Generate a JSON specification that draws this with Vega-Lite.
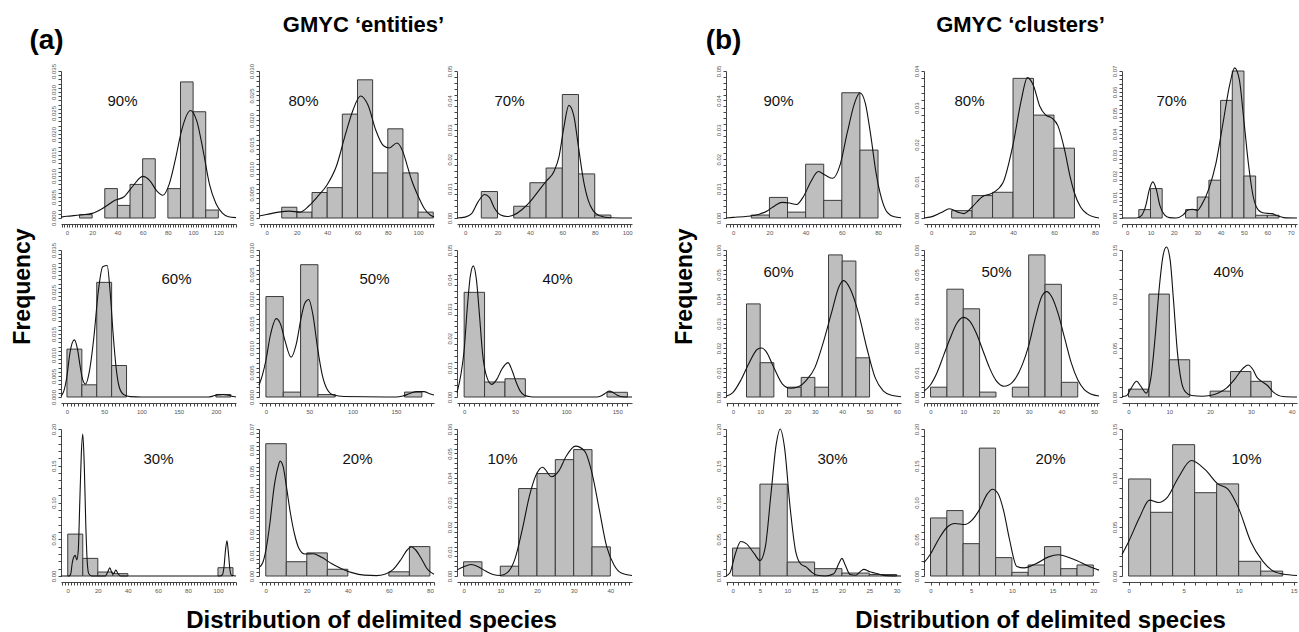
{
"$schema":"https://vega.github.io/schema/vega-lite/v6.json",
"background":"white",
"padding":{"left":10,"top":13,"right":0,"bottom":0},
"config":{
 "view":{"stroke":null},
 "font":"Liberation Sans",
 "axis":{"grid":false,"domainColor":"#444","tickColor":"#444","labelColor":"#555","labelFontSize":6,"labelFont":"Liberation Sans","tickSize":3,"labelOverlap":false,"labelFlush":false,"titleFont":"Liberation Sans","titleColor":"#000"},
 "axisLeft":{"labelAngle":-90,"labelAlign":"center","labelBaseline":"bottom","labelPadding":2},
 "axisBottom":{"offset":6,"labelPadding":2},
 "axisRight":{"domain":false,"ticks":false,"labels":false,"titleAngle":0,"titleAlign":"center","titleBaseline":"middle","titleFontSize":15,"titleFontWeight":"normal","titleColor":"#111"},
 "axisTop":{"domain":false,"ticks":false,"labels":false,"titleAlign":"center","titleBaseline":"middle","titleFontSize":22,"titleFontWeight":"bold"},
 "rect":{"fill":"#bebebe","stroke":"#3a3a3a","strokeWidth":1},
 "line":{"color":"#111","strokeWidth":1.1,"interpolate":"monotone","clip":true}
},
"datasets":{
"hist":[
{"p":"a90","a":10,"b":20,"v":0.0008},{"p":"a90","a":30,"b":40,"v":0.007},{"p":"a90","a":40,"b":50,"v":0.003},{"p":"a90","a":50,"b":60,"v":0.008},{"p":"a90","a":60,"b":70,"v":0.0141},{"p":"a90","a":80,"b":90,"v":0.007},{"p":"a90","a":90,"b":100,"v":0.0324},{"p":"a90","a":100,"b":110,"v":0.0253},{"p":"a90","a":110,"b":120,"v":0.0019},
{"p":"a80","a":10,"b":20,"v":0.0022},{"p":"a80","a":20,"b":30,"v":0.0012},{"p":"a80","a":30,"b":40,"v":0.0052},{"p":"a80","a":40,"b":50,"v":0.0062},{"p":"a80","a":50,"b":60,"v":0.0212},{"p":"a80","a":60,"b":70,"v":0.0282},{"p":"a80","a":70,"b":80,"v":0.0092},{"p":"a80","a":80,"b":90,"v":0.0182},{"p":"a80","a":90,"b":100,"v":0.0092},{"p":"a80","a":100,"b":110,"v":0.0012},
{"p":"a70","a":10,"b":20,"v":0.009},{"p":"a70","a":30,"b":40,"v":0.004},{"p":"a70","a":40,"b":50,"v":0.012},{"p":"a70","a":50,"b":60,"v":0.017},{"p":"a70","a":60,"b":70,"v":0.042},{"p":"a70","a":70,"b":80,"v":0.015},{"p":"a70","a":80,"b":90,"v":0.001},
{"p":"a60","a":0,"b":20,"v":0.0114},{"p":"a60","a":20,"b":40,"v":0.0029},{"p":"a60","a":40,"b":60,"v":0.0273},{"p":"a60","a":60,"b":80,"v":0.0075},{"p":"a60","a":200,"b":220,"v":0.0006},
{"p":"a50","a":0,"b":20,"v":0.0205},{"p":"a50","a":20,"b":40,"v":0.001},{"p":"a50","a":40,"b":60,"v":0.027},{"p":"a50","a":60,"b":80,"v":0.0005},{"p":"a50","a":160,"b":180,"v":0.001},
{"p":"a40","a":0,"b":20,"v":0.0356},{"p":"a40","a":20,"b":40,"v":0.0051},{"p":"a40","a":40,"b":60,"v":0.0062},{"p":"a40","a":140,"b":160,"v":0.0016},
{"p":"a30","a":0,"b":10,"v":0.057},{"p":"a30","a":10,"b":20,"v":0.024},{"p":"a30","a":20,"b":30,"v":0.0054},{"p":"a30","a":30,"b":40,"v":0.0032},{"p":"a30","a":100,"b":110,"v":0.0113},
{"p":"a20","a":0,"b":10,"v":0.063},{"p":"a20","a":10,"b":20,"v":0.0068},{"p":"a20","a":20,"b":30,"v":0.011},{"p":"a20","a":30,"b":40,"v":0.0032},{"p":"a20","a":60,"b":70,"v":0.002},{"p":"a20","a":70,"b":80,"v":0.014},
{"p":"a10","a":0,"b":5,"v":0.0058},{"p":"a10","a":10,"b":15,"v":0.004},{"p":"a10","a":15,"b":20,"v":0.0357},{"p":"a10","a":20,"b":25,"v":0.0418},{"p":"a10","a":25,"b":30,"v":0.0475},{"p":"a10","a":30,"b":35,"v":0.0516},{"p":"a10","a":35,"b":40,"v":0.0119},
{"p":"b90","a":10,"b":20,"v":0.001},{"p":"b90","a":20,"b":30,"v":0.007},{"p":"b90","a":30,"b":40,"v":0.002},{"p":"b90","a":40,"b":50,"v":0.0183},{"p":"b90","a":50,"b":60,"v":0.006},{"p":"b90","a":60,"b":70,"v":0.0426},{"p":"b90","a":70,"b":80,"v":0.0231},
{"p":"b80","a":10,"b":20,"v":0.002},{"p":"b80","a":20,"b":30,"v":0.0061},{"p":"b80","a":30,"b":40,"v":0.007},{"p":"b80","a":40,"b":50,"v":0.038},{"p":"b80","a":50,"b":60,"v":0.028},{"p":"b80","a":60,"b":70,"v":0.019},
{"p":"b70","a":5,"b":10,"v":0.004},{"p":"b70","a":10,"b":15,"v":0.014},{"p":"b70","a":25,"b":30,"v":0.004},{"p":"b70","a":30,"b":35,"v":0.01},{"p":"b70","a":35,"b":40,"v":0.018},{"p":"b70","a":40,"b":45,"v":0.056},{"p":"b70","a":45,"b":50,"v":0.07},{"p":"b70","a":50,"b":55,"v":0.02},{"p":"b70","a":55,"b":60,"v":0.0013},{"p":"b70","a":60,"b":65,"v":0.0013},
{"p":"b60","a":5,"b":10,"v":0.038},{"p":"b60","a":10,"b":15,"v":0.014},{"p":"b60","a":20,"b":25,"v":0.004},{"p":"b60","a":25,"b":30,"v":0.008},{"p":"b60","a":30,"b":35,"v":0.004},{"p":"b60","a":35,"b":40,"v":0.058},{"p":"b60","a":40,"b":45,"v":0.0555},{"p":"b60","a":45,"b":50,"v":0.016},
{"p":"b50","a":0,"b":5,"v":0.004},{"p":"b50","a":5,"b":10,"v":0.044},{"p":"b50","a":10,"b":15,"v":0.036},{"p":"b50","a":15,"b":20,"v":0.002},{"p":"b50","a":25,"b":30,"v":0.004},{"p":"b50","a":30,"b":35,"v":0.058},{"p":"b50","a":35,"b":40,"v":0.046},{"p":"b50","a":40,"b":45,"v":0.006},
{"p":"b40","a":0,"b":5,"v":0.008},{"p":"b40","a":5,"b":10,"v":0.105},{"p":"b40","a":10,"b":15,"v":0.038},{"p":"b40","a":20,"b":25,"v":0.006},{"p":"b40","a":25,"b":30,"v":0.026},{"p":"b40","a":30,"b":35,"v":0.016},
{"p":"b30","a":0,"b":5,"v":0.038},{"p":"b30","a":5,"b":10,"v":0.125},{"p":"b30","a":10,"b":15,"v":0.019},{"p":"b30","a":15,"b":20,"v":0.01},{"p":"b30","a":20,"b":25,"v":0.004},{"p":"b30","a":25,"b":30,"v":0.002},
{"p":"b20","a":0,"b":2,"v":0.079},{"p":"b20","a":2,"b":4,"v":0.089},{"p":"b20","a":4,"b":6,"v":0.044},{"p":"b20","a":6,"b":8,"v":0.174},{"p":"b20","a":8,"b":10,"v":0.025},{"p":"b20","a":10,"b":12,"v":0.005},{"p":"b20","a":12,"b":14,"v":0.015},{"p":"b20","a":14,"b":16,"v":0.04},{"p":"b20","a":16,"b":18,"v":0.01},{"p":"b20","a":18,"b":20,"v":0.015},
{"p":"b10","a":0,"b":2,"v":0.099},{"p":"b10","a":2,"b":4,"v":0.065},{"p":"b10","a":4,"b":6,"v":0.134},{"p":"b10","a":6,"b":8,"v":0.085},{"p":"b10","a":8,"b":10,"v":0.094},{"p":"b10","a":10,"b":12,"v":0.015},{"p":"b10","a":12,"b":14,"v":0.005}
],
"dens":[
{"p":"a90","x":-4.7,"y":0.0002},{"p":"a90","x":0,"y":0.0004},{"p":"a90","x":10,"y":0.0007},{"p":"a90","x":20,"y":0.0011},{"p":"a90","x":30,"y":0.0026},{"p":"a90","x":38,"y":0.0042},{"p":"a90","x":45,"y":0.005},{"p":"a90","x":52,"y":0.0075},{"p":"a90","x":60,"y":0.0099},{"p":"a90","x":66,"y":0.0088},{"p":"a90","x":71,"y":0.0065},{"p":"a90","x":76,"y":0.0054},{"p":"a90","x":81,"y":0.008},{"p":"a90","x":86,"y":0.014},{"p":"a90","x":91,"y":0.021},{"p":"a90","x":98,"y":0.0256},{"p":"a90","x":103,"y":0.023},{"p":"a90","x":108,"y":0.016},{"p":"a90","x":113,"y":0.008},{"p":"a90","x":118,"y":0.0035},{"p":"a90","x":123,"y":0.0012},{"p":"a90","x":128,"y":0.0003},{"p":"a90","x":134,"y":0.0001},
{"p":"a80","x":-5,"y":0.0004},{"p":"a80","x":0,"y":0.0007},{"p":"a80","x":8,"y":0.0012},{"p":"a80","x":15,"y":0.0014},{"p":"a80","x":22,"y":0.0012},{"p":"a80","x":28,"y":0.0025},{"p":"a80","x":34,"y":0.0045},{"p":"a80","x":40,"y":0.0068},{"p":"a80","x":46,"y":0.0105},{"p":"a80","x":52,"y":0.017},{"p":"a80","x":57,"y":0.022},{"p":"a80","x":62,"y":0.0249},{"p":"a80","x":67,"y":0.023},{"p":"a80","x":72,"y":0.018},{"p":"a80","x":77,"y":0.0148},{"p":"a80","x":81,"y":0.0143},{"p":"a80","x":86,"y":0.0153},{"p":"a80","x":90,"y":0.0135},{"p":"a80","x":93,"y":0.0105},{"p":"a80","x":96,"y":0.0075},{"p":"a80","x":100,"y":0.0045},{"p":"a80","x":104,"y":0.002},{"p":"a80","x":108,"y":0.0006},{"p":"a80","x":110.5,"y":0.0002},
{"p":"a70","x":-5,"y":0},{"p":"a70","x":0,"y":0.0003},{"p":"a70","x":4,"y":0.0015},{"p":"a70","x":8,"y":0.0055},{"p":"a70","x":12,"y":0.008},{"p":"a70","x":15,"y":0.007},{"p":"a70","x":18,"y":0.0035},{"p":"a70","x":22,"y":0.001},{"p":"a70","x":26,"y":0.0005},{"p":"a70","x":30,"y":0.001},{"p":"a70","x":35,"y":0.0028},{"p":"a70","x":40,"y":0.0055},{"p":"a70","x":45,"y":0.009},{"p":"a70","x":50,"y":0.0125},{"p":"a70","x":55,"y":0.016},{"p":"a70","x":58,"y":0.021},{"p":"a70","x":61,"y":0.031},{"p":"a70","x":64,"y":0.0383},{"p":"a70","x":67,"y":0.035},{"p":"a70","x":70,"y":0.024},{"p":"a70","x":73,"y":0.013},{"p":"a70","x":76,"y":0.006},{"p":"a70","x":79,"y":0.0025},{"p":"a70","x":83,"y":0.0008},{"p":"a70","x":90,"y":0.0001},{"p":"a70","x":103,"y":0},
{"p":"a60","x":-8,"y":0.0002},{"p":"a60","x":-4,"y":0.0015},{"p":"a60","x":0,"y":0.005},{"p":"a60","x":4,"y":0.0105},{"p":"a60","x":10,"y":0.0136},{"p":"a60","x":14,"y":0.0115},{"p":"a60","x":18,"y":0.007},{"p":"a60","x":21,"y":0.0042},{"p":"a60","x":25,"y":0.0031},{"p":"a60","x":30,"y":0.006},{"p":"a60","x":36,"y":0.014},{"p":"a60","x":42,"y":0.025},{"p":"a60","x":48,"y":0.031},{"p":"a60","x":54,"y":0.0313},{"p":"a60","x":58,"y":0.025},{"p":"a60","x":62,"y":0.015},{"p":"a60","x":66,"y":0.007},{"p":"a60","x":70,"y":0.0025},{"p":"a60","x":76,"y":0.0006},{"p":"a60","x":85,"y":0.0001},{"p":"a60","x":100,"y":0},{"p":"a60","x":190,"y":0},{"p":"a60","x":196,"y":0.0002},{"p":"a60","x":202,"y":0.0005},{"p":"a60","x":210,"y":0.0006},{"p":"a60","x":217,"y":0.0004},{"p":"a60","x":224,"y":0.0001},{"p":"a60","x":227,"y":0},
{"p":"a50","x":-8,"y":0.0024},{"p":"a50","x":-4,"y":0.0045},{"p":"a50","x":0,"y":0.0075},{"p":"a50","x":5,"y":0.0125},{"p":"a50","x":12,"y":0.016},{"p":"a50","x":17,"y":0.0148},{"p":"a50","x":22,"y":0.0115},{"p":"a50","x":29,"y":0.0081},{"p":"a50","x":35,"y":0.0108},{"p":"a50","x":41,"y":0.0165},{"p":"a50","x":45,"y":0.0192},{"p":"a50","x":49.5,"y":0.0199},{"p":"a50","x":54,"y":0.017},{"p":"a50","x":60,"y":0.0095},{"p":"a50","x":65,"y":0.0045},{"p":"a50","x":70,"y":0.0018},{"p":"a50","x":78,"y":0.0004},{"p":"a50","x":90,"y":0.0001},{"p":"a50","x":150,"y":0},{"p":"a50","x":158,"y":0.0002},{"p":"a50","x":166,"y":0.0007},{"p":"a50","x":174,"y":0.0011},{"p":"a50","x":182,"y":0.0011},{"p":"a50","x":190,"y":0.0006},{"p":"a50","x":194,"y":0.0004},
{"p":"a40","x":-7,"y":0.0015},{"p":"a40","x":-3,"y":0.008},{"p":"a40","x":0,"y":0.016},{"p":"a40","x":3,"y":0.03},{"p":"a40","x":6,"y":0.041},{"p":"a40","x":9,"y":0.0446},{"p":"a40","x":12,"y":0.04},{"p":"a40","x":15,"y":0.028},{"p":"a40","x":18,"y":0.015},{"p":"a40","x":22,"y":0.007},{"p":"a40","x":27,"y":0.0043},{"p":"a40","x":32,"y":0.006},{"p":"a40","x":37,"y":0.0095},{"p":"a40","x":43,"y":0.0117},{"p":"a40","x":47,"y":0.009},{"p":"a40","x":51,"y":0.005},{"p":"a40","x":55,"y":0.002},{"p":"a40","x":59,"y":0.0006},{"p":"a40","x":65,"y":0.0001},{"p":"a40","x":70,"y":0},{"p":"a40","x":130,"y":0},{"p":"a40","x":134,"y":0.0003},{"p":"a40","x":138,"y":0.0012},{"p":"a40","x":142,"y":0.002},{"p":"a40","x":146,"y":0.0015},{"p":"a40","x":150,"y":0.0006},{"p":"a40","x":155,"y":0.0001},{"p":"a40","x":164.5,"y":0},
{"p":"a30","x":-4.5,"y":0},{"p":"a30","x":1,"y":0},{"p":"a30","x":2,"y":0.003},{"p":"a30","x":3,"y":0.018},{"p":"a30","x":4,"y":0.026},{"p":"a30","x":5,"y":0.028},{"p":"a30","x":6,"y":0.022},{"p":"a30","x":7,"y":0.035},{"p":"a30","x":8,"y":0.1},{"p":"a30","x":9,"y":0.165},{"p":"a30","x":10,"y":0.193},{"p":"a30","x":11,"y":0.15},{"p":"a30","x":12,"y":0.07},{"p":"a30","x":13,"y":0.018},{"p":"a30","x":14,"y":0.003},{"p":"a30","x":16,"y":0},{"p":"a30","x":25,"y":0},{"p":"a30","x":26.5,"y":0.005},{"p":"a30","x":28,"y":0.011},{"p":"a30","x":29.5,"y":0.004},{"p":"a30","x":30.5,"y":0.003},{"p":"a30","x":32,"y":0.008},{"p":"a30","x":33.5,"y":0.003},{"p":"a30","x":35,"y":0},{"p":"a30","x":101,"y":0},{"p":"a30","x":103,"y":0.002},{"p":"a30","x":104,"y":0.012},{"p":"a30","x":105,"y":0.035},{"p":"a30","x":106,"y":0.048},{"p":"a30","x":107,"y":0.03},{"p":"a30","x":108,"y":0.008},{"p":"a30","x":109,"y":0.001},{"p":"a30","x":112,"y":0},
{"p":"a20","x":-3.3,"y":0.004},{"p":"a20","x":-1.5,"y":0.0063},{"p":"a20","x":0,"y":0.012},{"p":"a20","x":2,"y":0.025},{"p":"a20","x":4,"y":0.042},{"p":"a20","x":6,"y":0.052},{"p":"a20","x":7,"y":0.0547},{"p":"a20","x":8.5,"y":0.052},{"p":"a20","x":10,"y":0.043},{"p":"a20","x":12,"y":0.03},{"p":"a20","x":14,"y":0.02},{"p":"a20","x":16,"y":0.0135},{"p":"a20","x":19,"y":0.0105},{"p":"a20","x":23,"y":0.0106},{"p":"a20","x":27,"y":0.009},{"p":"a20","x":32,"y":0.006},{"p":"a20","x":37,"y":0.0035},{"p":"a20","x":42,"y":0.0016},{"p":"a20","x":48,"y":0.0004},{"p":"a20","x":54,"y":0.0002},{"p":"a20","x":58,"y":0.0008},{"p":"a20","x":62,"y":0.003},{"p":"a20","x":66,"y":0.008},{"p":"a20","x":69,"y":0.0125},{"p":"a20","x":71,"y":0.0139},{"p":"a20","x":73,"y":0.0125},{"p":"a20","x":76,"y":0.008},{"p":"a20","x":79,"y":0.003},{"p":"a20","x":82,"y":0.0008},
{"p":"a10","x":-1.8,"y":0.0025},{"p":"a10","x":0,"y":0.0038},{"p":"a10","x":2,"y":0.0047},{"p":"a10","x":4,"y":0.0038},{"p":"a10","x":6,"y":0.002},{"p":"a10","x":8,"y":0.0006},{"p":"a10","x":10,"y":0.0002},{"p":"a10","x":12,"y":0.0015},{"p":"a10","x":14,"y":0.007},{"p":"a10","x":16,"y":0.019},{"p":"a10","x":18,"y":0.033},{"p":"a10","x":20,"y":0.042},{"p":"a10","x":21.5,"y":0.0444},{"p":"a10","x":24,"y":0.0405},{"p":"a10","x":26,"y":0.043},{"p":"a10","x":28,"y":0.049},{"p":"a10","x":30.5,"y":0.053},{"p":"a10","x":33,"y":0.051},{"p":"a10","x":35,"y":0.042},{"p":"a10","x":37,"y":0.027},{"p":"a10","x":39,"y":0.012},{"p":"a10","x":41,"y":0.0045},{"p":"a10","x":43,"y":0.0012},{"p":"a10","x":45.9,"y":0.0002},
{"p":"b90","x":-4,"y":0},{"p":"b90","x":0,"y":0.0002},{"p":"b90","x":8,"y":0.0006},{"p":"b90","x":14,"y":0.0012},{"p":"b90","x":19,"y":0.0025},{"p":"b90","x":23,"y":0.0042},{"p":"b90","x":27,"y":0.0053},{"p":"b90","x":31,"y":0.0051},{"p":"b90","x":35,"y":0.0046},{"p":"b90","x":39,"y":0.0075},{"p":"b90","x":43,"y":0.0125},{"p":"b90","x":47,"y":0.0158},{"p":"b90","x":51,"y":0.0145},{"p":"b90","x":55,"y":0.0135},{"p":"b90","x":59,"y":0.018},{"p":"b90","x":63,"y":0.029},{"p":"b90","x":67,"y":0.039},{"p":"b90","x":70,"y":0.0426},{"p":"b90","x":73,"y":0.039},{"p":"b90","x":76,"y":0.028},{"p":"b90","x":79,"y":0.015},{"p":"b90","x":82,"y":0.0065},{"p":"b90","x":85,"y":0.002},{"p":"b90","x":89,"y":0.0004},{"p":"b90","x":92.7,"y":0.0001},
{"p":"b80","x":-3.5,"y":0},{"p":"b80","x":0,"y":0.0003},{"p":"b80","x":5,"y":0.0015},{"p":"b80","x":9,"y":0.0025},{"p":"b80","x":13,"y":0.0016},{"p":"b80","x":16,"y":0.0012},{"p":"b80","x":20,"y":0.003},{"p":"b80","x":25,"y":0.0058},{"p":"b80","x":30,"y":0.0068},{"p":"b80","x":35,"y":0.0095},{"p":"b80","x":40,"y":0.02},{"p":"b80","x":44,"y":0.032},{"p":"b80","x":47,"y":0.0382},{"p":"b80","x":50,"y":0.036},{"p":"b80","x":53,"y":0.0305},{"p":"b80","x":56,"y":0.028},{"p":"b80","x":59,"y":0.0272},{"p":"b80","x":62,"y":0.025},{"p":"b80","x":65,"y":0.019},{"p":"b80","x":68,"y":0.011},{"p":"b80","x":70,"y":0.0068},{"p":"b80","x":73,"y":0.003},{"p":"b80","x":76,"y":0.0012},{"p":"b80","x":80,"y":0.0002},{"p":"b80","x":82,"y":0},
{"p":"b70","x":-2.2,"y":0},{"p":"b70","x":4,"y":0},{"p":"b70","x":6,"y":0.001},{"p":"b70","x":8,"y":0.006},{"p":"b70","x":9.5,"y":0.0135},{"p":"b70","x":11,"y":0.0172},{"p":"b70","x":12.5,"y":0.0135},{"p":"b70","x":14,"y":0.006},{"p":"b70","x":16,"y":0.0015},{"p":"b70","x":18,"y":0.0002},{"p":"b70","x":21,"y":0},{"p":"b70","x":24,"y":0.0015},{"p":"b70","x":26,"y":0.0038},{"p":"b70","x":28,"y":0.0042},{"p":"b70","x":30,"y":0.0036},{"p":"b70","x":32,"y":0.0065},{"p":"b70","x":35,"y":0.014},{"p":"b70","x":38,"y":0.026},{"p":"b70","x":41,"y":0.045},{"p":"b70","x":44,"y":0.064},{"p":"b70","x":46,"y":0.0715},{"p":"b70","x":48,"y":0.066},{"p":"b70","x":50,"y":0.046},{"p":"b70","x":52,"y":0.025},{"p":"b70","x":54,"y":0.01},{"p":"b70","x":56,"y":0.004},{"p":"b70","x":58,"y":0.0025},{"p":"b70","x":60,"y":0.0022},{"p":"b70","x":62,"y":0.0021},{"p":"b70","x":64,"y":0.0012},{"p":"b70","x":67,"y":0.0002},{"p":"b70","x":72.7,"y":0},
{"p":"b60","x":-2.5,"y":0.0003},{"p":"b60","x":0,"y":0.0018},{"p":"b60","x":3,"y":0.007},{"p":"b60","x":6,"y":0.014},{"p":"b60","x":9,"y":0.0195},{"p":"b60","x":10.5,"y":0.02},{"p":"b60","x":12,"y":0.0188},{"p":"b60","x":15,"y":0.012},{"p":"b60","x":18,"y":0.0055},{"p":"b60","x":21,"y":0.0036},{"p":"b60","x":24,"y":0.0042},{"p":"b60","x":27,"y":0.007},{"p":"b60","x":30,"y":0.012},{"p":"b60","x":33,"y":0.022},{"p":"b60","x":36,"y":0.034},{"p":"b60","x":39,"y":0.0455},{"p":"b60","x":40.5,"y":0.0475},{"p":"b60","x":43,"y":0.044},{"p":"b60","x":46,"y":0.034},{"p":"b60","x":49,"y":0.02},{"p":"b60","x":52,"y":0.008},{"p":"b60","x":55,"y":0.0025},{"p":"b60","x":58,"y":0.0007},{"p":"b60","x":61.5,"y":0.0001},
{"p":"b50","x":-2,"y":0.0024},{"p":"b50","x":0,"y":0.005},{"p":"b50","x":2,"y":0.01},{"p":"b50","x":4,"y":0.017},{"p":"b50","x":6,"y":0.024},{"p":"b50","x":8,"y":0.03},{"p":"b50","x":10,"y":0.0325},{"p":"b50","x":12,"y":0.031},{"p":"b50","x":14,"y":0.026},{"p":"b50","x":16,"y":0.019},{"p":"b50","x":18,"y":0.012},{"p":"b50","x":20,"y":0.0068},{"p":"b50","x":22.5,"y":0.0044},{"p":"b50","x":25,"y":0.006},{"p":"b50","x":28,"y":0.013},{"p":"b50","x":30,"y":0.021},{"p":"b50","x":32,"y":0.032},{"p":"b50","x":34,"y":0.041},{"p":"b50","x":35.5,"y":0.043},{"p":"b50","x":37,"y":0.041},{"p":"b50","x":39,"y":0.034},{"p":"b50","x":41,"y":0.024},{"p":"b50","x":43,"y":0.014},{"p":"b50","x":45,"y":0.007},{"p":"b50","x":47,"y":0.003},{"p":"b50","x":49,"y":0.0012},{"p":"b50","x":51.5,"y":0.0004},
{"p":"b40","x":-1.6,"y":0.0005},{"p":"b40","x":-0.5,"y":0.0013},{"p":"b40","x":0.5,"y":0.008},{"p":"b40","x":2,"y":0.016},{"p":"b40","x":3,"y":0.011},{"p":"b40","x":4.3,"y":0.004},{"p":"b40","x":5.5,"y":0.02},{"p":"b40","x":6.5,"y":0.06},{"p":"b40","x":7.5,"y":0.11},{"p":"b40","x":8.5,"y":0.145},{"p":"b40","x":9.3,"y":0.153},{"p":"b40","x":10.2,"y":0.14},{"p":"b40","x":11,"y":0.1},{"p":"b40","x":12,"y":0.045},{"p":"b40","x":13,"y":0.015},{"p":"b40","x":14,"y":0.005},{"p":"b40","x":15.5,"y":0.0015},{"p":"b40","x":18,"y":0.0008},{"p":"b40","x":20,"y":0.0015},{"p":"b40","x":22,"y":0.004},{"p":"b40","x":24,"y":0.009},{"p":"b40","x":26,"y":0.018},{"p":"b40","x":28,"y":0.029},{"p":"b40","x":29.3,"y":0.0326},{"p":"b40","x":30.5,"y":0.028},{"p":"b40","x":31.5,"y":0.02},{"p":"b40","x":32.6,"y":0.016},{"p":"b40","x":34,"y":0.012},{"p":"b40","x":35.5,"y":0.005},{"p":"b40","x":37.9,"y":0.0005},{"p":"b40","x":41.3,"y":0},
{"p":"b30","x":-1.2,"y":0},{"p":"b30","x":-0.5,"y":0.004},{"p":"b30","x":0.5,"y":0.03},{"p":"b30","x":1.5,"y":0.047},{"p":"b30","x":2.5,"y":0.044},{"p":"b30","x":4,"y":0.03},{"p":"b30","x":5,"y":0.021},{"p":"b30","x":6,"y":0.04},{"p":"b30","x":7,"y":0.11},{"p":"b30","x":8,"y":0.18},{"p":"b30","x":8.7,"y":0.2},{"p":"b30","x":9.5,"y":0.175},{"p":"b30","x":10.5,"y":0.095},{"p":"b30","x":11.5,"y":0.035},{"p":"b30","x":12.5,"y":0.016},{"p":"b30","x":13.5,"y":0.012},{"p":"b30","x":14.5,"y":0.005},{"p":"b30","x":15.5,"y":0.001},{"p":"b30","x":17,"y":0},{"p":"b30","x":18.5,"y":0.003},{"p":"b30","x":19.5,"y":0.018},{"p":"b30","x":20,"y":0.024},{"p":"b30","x":20.6,"y":0.015},{"p":"b30","x":21.5,"y":0.002},{"p":"b30","x":22.5,"y":0.001},{"p":"b30","x":23.5,"y":0.007},{"p":"b30","x":24,"y":0.009},{"p":"b30","x":25,"y":0.006},{"p":"b30","x":26,"y":0.004},{"p":"b30","x":27,"y":0.002},{"p":"b30","x":28,"y":0.0005},{"p":"b30","x":30.8,"y":0},
{"p":"b20","x":-0.8,"y":0.018},{"p":"b20","x":0,"y":0.03},{"p":"b20","x":1,"y":0.05},{"p":"b20","x":2,"y":0.066},{"p":"b20","x":3,"y":0.0715},{"p":"b20","x":4.2,"y":0.07},{"p":"b20","x":5,"y":0.075},{"p":"b20","x":6,"y":0.09},{"p":"b20","x":7,"y":0.112},{"p":"b20","x":7.6,"y":0.118},{"p":"b20","x":8.3,"y":0.112},{"p":"b20","x":9,"y":0.088},{"p":"b20","x":9.7,"y":0.05},{"p":"b20","x":10.6,"y":0.013},{"p":"b20","x":11.5,"y":0.011},{"p":"b20","x":13,"y":0.017},{"p":"b20","x":14.5,"y":0.026},{"p":"b20","x":15.7,"y":0.029},{"p":"b20","x":17.5,"y":0.023},{"p":"b20","x":19.5,"y":0.013},{"p":"b20","x":20.7,"y":0.008},
{"p":"b10","x":-0.6,"y":0.022},{"p":"b10","x":0,"y":0.035},{"p":"b10","x":1,"y":0.06},{"p":"b10","x":1.9,"y":0.0774},{"p":"b10","x":2.7,"y":0.075},{"p":"b10","x":3.5,"y":0.08},{"p":"b10","x":4.5,"y":0.1},{"p":"b10","x":5.7,"y":0.1178},{"p":"b10","x":7,"y":0.108},{"p":"b10","x":8.1,"y":0.094},{"p":"b10","x":9,"y":0.089},{"p":"b10","x":10,"y":0.069},{"p":"b10","x":11.1,"y":0.035},{"p":"b10","x":12.2,"y":0.015},{"p":"b10","x":13,"y":0.006},{"p":"b10","x":14,"y":0.002},{"p":"b10","x":15.3,"y":0.0005}
]
},
"spacing":37,
"hconcat":[
{"columns":3,"spacing":{"row":32,"column":23},"bounds":"flush","concat":[
{"width":175,"height":147,"resolve":{"axis":{"x":"independent","y":"independent"}},"layer":[
 {"data":{"name":"hist"},"transform":[{"filter":"datum.p == 'a90'"}],"mark":"rect","encoding":{
  "x":{"field":"a","type":"quantitative","scale":{"domain":[-4.7,134],"nice":false,"zero":false},"axis":{"title":null,"tickCount":69,"labelExpr":"abs(datum.value % 20) < 1e-6 ? datum.label : ''"}},
  "x2":{"field":"b"},
  "y":{"field":"v","type":"quantitative","scale":{"domain":[0,0.035],"nice":false},"axis":{"title":"(a)","titleAngle":0,"titleX":-15,"titleY":-31,"titleFontSize":28,"titleFontWeight":"bold","titleAlign":"center","titleBaseline":"middle","tickCount":35,"labelExpr":"abs(datum.value/0.005 - round(datum.value/0.005)) < 0.01 ? format(datum.value, '.3f') : ''"}},
  "y2":{"datum":0}}},
 {"data":{"name":"dens"},"transform":[{"filter":"datum.p == 'a90'"}],"mark":"line","encoding":{
  "x":{"field":"x","type":"quantitative","axis":null},
  "y":{"field":"y","type":"quantitative","axis":{"orient":"right","title":"90%","titleX":-114,"titleY":29}}}}
]},
{"width":175,"height":147,"resolve":{"axis":{"x":"independent","y":"independent"}},"layer":[
 {"data":{"name":"hist"},"transform":[{"filter":"datum.p == 'a80'"}],"mark":"rect","encoding":{
  "x":{"field":"a","type":"quantitative","scale":{"domain":[-5,110.5],"nice":false,"zero":false},"axis":{"title":null,"tickCount":58,"labelExpr":"abs(datum.value % 20) < 1e-6 ? datum.label : ''"}},
  "x2":{"field":"b"},
  "y":{"field":"v","type":"quantitative","scale":{"domain":[0,0.03],"nice":false},"axis":{"title":null,"tickCount":30,"labelExpr":"abs(datum.value/0.005 - round(datum.value/0.005)) < 0.01 ? format(datum.value, '.3f') : ''"}},
  "y2":{"datum":0}}},
 {"data":{"name":"dens"},"transform":[{"filter":"datum.p == 'a80'"}],"mark":"line","encoding":{
  "x":{"field":"x","type":"quantitative","axis":{"orient":"top","title":"GMYC ‘entities’","titleX":104,"titleY":-47}},
  "y":{"field":"y","type":"quantitative","axis":{"orient":"right","title":"80%","titleX":-131,"titleY":29}}}}
]},
{"width":175,"height":147,"resolve":{"axis":{"x":"independent","y":"independent"}},"layer":[
 {"data":{"name":"hist"},"transform":[{"filter":"datum.p == 'a70'"}],"mark":"rect","encoding":{
  "x":{"field":"a","type":"quantitative","scale":{"domain":[-5,103],"nice":false,"zero":false},"axis":{"title":null,"tickCount":54,"labelExpr":"abs(datum.value % 20) < 1e-6 ? datum.label : ''"}},
  "x2":{"field":"b"},
  "y":{"field":"v","type":"quantitative","scale":{"domain":[0,0.05],"nice":false},"axis":{"title":null,"tickCount":25,"labelExpr":"abs(datum.value/0.01 - round(datum.value/0.01)) < 0.01 ? format(datum.value, '.2f') : ''"}},
  "y2":{"datum":0}}},
 {"data":{"name":"dens"},"transform":[{"filter":"datum.p == 'a70'"}],"mark":"line","encoding":{
  "x":{"field":"x","type":"quantitative","axis":null},
  "y":{"field":"y","type":"quantitative","axis":{"orient":"right","title":"70%","titleX":-123,"titleY":29}}}}
]},
{"width":175,"height":147,"resolve":{"axis":{"x":"independent","y":"independent"}},"layer":[
 {"data":{"name":"hist"},"transform":[{"filter":"datum.p == 'a60'"}],"mark":"rect","encoding":{
  "x":{"field":"a","type":"quantitative","scale":{"domain":[-8,227],"nice":false,"zero":false},"axis":{"title":null,"tickCount":47,"labelExpr":"abs(datum.value % 50) < 1e-6 ? datum.label : ''"}},
  "x2":{"field":"b"},
  "y":{"field":"v","type":"quantitative","scale":{"domain":[0,0.035],"nice":false},"axis":{"title":"Frequency","titleAngle":-90,"titleX":-39,"titleY":36,"titleFontSize":23,"titleFontWeight":"bold","titleAlign":"center","titleBaseline":"middle","tickCount":35,"labelExpr":"abs(datum.value/0.005 - round(datum.value/0.005)) < 0.01 ? format(datum.value, '.3f') : ''"}},
  "y2":{"datum":0}}},
 {"data":{"name":"dens"},"transform":[{"filter":"datum.p == 'a60'"}],"mark":"line","encoding":{
  "x":{"field":"x","type":"quantitative","axis":null},
  "y":{"field":"y","type":"quantitative","axis":{"orient":"right","title":"60%","titleX":-60,"titleY":28}}}}
]},
{"width":175,"height":147,"resolve":{"axis":{"x":"independent","y":"independent"}},"layer":[
 {"data":{"name":"hist"},"transform":[{"filter":"datum.p == 'a50'"}],"mark":"rect","encoding":{
  "x":{"field":"a","type":"quantitative","scale":{"domain":[-8,194],"nice":false,"zero":false},"axis":{"title":null,"tickCount":40,"labelExpr":"abs(datum.value % 50) < 1e-6 ? datum.label : ''"}},
  "x2":{"field":"b"},
  "y":{"field":"v","type":"quantitative","scale":{"domain":[0,0.03],"nice":false},"axis":{"title":null,"tickCount":30,"labelExpr":"abs(datum.value/0.005 - round(datum.value/0.005)) < 0.01 ? format(datum.value, '.3f') : ''"}},
  "y2":{"datum":0}}},
 {"data":{"name":"dens"},"transform":[{"filter":"datum.p == 'a50'"}],"mark":"line","encoding":{
  "x":{"field":"x","type":"quantitative","axis":null},
  "y":{"field":"y","type":"quantitative","axis":{"orient":"right","title":"50%","titleX":-60,"titleY":28}}}}
]},
{"width":175,"height":147,"resolve":{"axis":{"x":"independent","y":"independent"}},"layer":[
 {"data":{"name":"hist"},"transform":[{"filter":"datum.p == 'a40'"}],"mark":"rect","encoding":{
  "x":{"field":"a","type":"quantitative","scale":{"domain":[-7,164.5],"nice":false,"zero":false},"axis":{"title":null,"tickCount":34,"labelExpr":"abs(datum.value % 50) < 1e-6 ? datum.label : ''"}},
  "x2":{"field":"b"},
  "y":{"field":"v","type":"quantitative","scale":{"domain":[0,0.05],"nice":false},"axis":{"title":null,"tickCount":25,"labelExpr":"abs(datum.value/0.01 - round(datum.value/0.01)) < 0.01 ? format(datum.value, '.2f') : ''"}},
  "y2":{"datum":0}}},
 {"data":{"name":"dens"},"transform":[{"filter":"datum.p == 'a40'"}],"mark":"line","encoding":{
  "x":{"field":"x","type":"quantitative","axis":null},
  "y":{"field":"y","type":"quantitative","axis":{"orient":"right","title":"40%","titleX":-75,"titleY":28}}}}
]},
{"width":175,"height":147,"resolve":{"axis":{"x":"independent","y":"independent"}},"layer":[
 {"data":{"name":"hist"},"transform":[{"filter":"datum.p == 'a30'"}],"mark":"rect","encoding":{
  "x":{"field":"a","type":"quantitative","scale":{"domain":[-4.5,112],"nice":false,"zero":false},"axis":{"title":null,"tickCount":58,"labelExpr":"abs(datum.value % 20) < 1e-6 ? datum.label : ''"}},
  "x2":{"field":"b"},
  "y":{"field":"v","type":"quantitative","scale":{"domain":[0,0.2],"nice":false},"axis":{"title":null,"tickCount":20,"labelExpr":"abs(datum.value/0.05 - round(datum.value/0.05)) < 0.01 ? format(datum.value, '.2f') : ''"}},
  "y2":{"datum":0}}},
 {"data":{"name":"dens"},"transform":[{"filter":"datum.p == 'a30'"}],"mark":"line","encoding":{
  "x":{"field":"x","type":"quantitative","axis":null},
  "y":{"field":"y","type":"quantitative","axis":{"orient":"right","title":"30%","titleX":-78,"titleY":29}}}}
]},
{"width":175,"height":147,"resolve":{"axis":{"x":"independent","y":"independent"}},"layer":[
 {"data":{"name":"hist"},"transform":[{"filter":"datum.p == 'a20'"}],"mark":"rect","encoding":{
  "x":{"field":"a","type":"quantitative","scale":{"domain":[-3.3,82],"nice":false,"zero":false},"axis":{"title":"Distribution of delimited species","titleX":112,"titleY":38,"titleFontSize":24,"titleFontWeight":"bold","titleAlign":"center","titleBaseline":"middle","tickCount":43,"labelExpr":"abs(datum.value % 20) < 1e-6 ? datum.label : ''"}},
  "x2":{"field":"b"},
  "y":{"field":"v","type":"quantitative","scale":{"domain":[0,0.07],"nice":false},"axis":{"title":null,"tickCount":35,"labelExpr":"abs(datum.value/0.01 - round(datum.value/0.01)) < 0.01 ? format(datum.value, '.2f') : ''"}},
  "y2":{"datum":0}}},
 {"data":{"name":"dens"},"transform":[{"filter":"datum.p == 'a20'"}],"mark":"line","encoding":{
  "x":{"field":"x","type":"quantitative","axis":null},
  "y":{"field":"y","type":"quantitative","axis":{"orient":"right","title":"20%","titleX":-77,"titleY":29}}}}
]},
{"width":175,"height":147,"resolve":{"axis":{"x":"independent","y":"independent"}},"layer":[
 {"data":{"name":"hist"},"transform":[{"filter":"datum.p == 'a10'"}],"mark":"rect","encoding":{
  "x":{"field":"a","type":"quantitative","scale":{"domain":[-1.8,45.9],"nice":false,"zero":false},"axis":{"title":null,"tickCount":48,"labelExpr":"abs(datum.value % 10) < 1e-6 ? datum.label : ''"}},
  "x2":{"field":"b"},
  "y":{"field":"v","type":"quantitative","scale":{"domain":[0,0.06],"nice":false},"axis":{"title":null,"tickCount":30,"labelExpr":"abs(datum.value/0.01 - round(datum.value/0.01)) < 0.01 ? format(datum.value, '.2f') : ''"}},
  "y2":{"datum":0}}},
 {"data":{"name":"dens"},"transform":[{"filter":"datum.p == 'a10'"}],"mark":"line","encoding":{
  "x":{"field":"x","type":"quantitative","axis":null},
  "y":{"field":"y","type":"quantitative","axis":{"orient":"right","title":"10%","titleX":-130,"titleY":29}}}}
]}
]},
{"columns":3,"spacing":{"row":32,"column":23},"bounds":"flush","concat":[
{"width":175,"height":147,"resolve":{"axis":{"x":"independent","y":"independent"}},"layer":[
 {"data":{"name":"hist"},"transform":[{"filter":"datum.p == 'b90'"}],"mark":"rect","encoding":{
  "x":{"field":"a","type":"quantitative","scale":{"domain":[-4,92.7],"nice":false,"zero":false},"axis":{"title":null,"tickCount":48,"labelExpr":"abs(datum.value % 20) < 1e-6 ? datum.label : ''"}},
  "x2":{"field":"b"},
  "y":{"field":"v","type":"quantitative","scale":{"domain":[0,0.05],"nice":false},"axis":{"title":"(b)","titleAngle":0,"titleX":-3,"titleY":-31,"titleFontSize":28,"titleFontWeight":"bold","titleAlign":"center","titleBaseline":"middle","tickCount":25,"labelExpr":"abs(datum.value/0.01 - round(datum.value/0.01)) < 0.01 ? format(datum.value, '.2f') : ''"}},
  "y2":{"datum":0}}},
 {"data":{"name":"dens"},"transform":[{"filter":"datum.p == 'b90'"}],"mark":"line","encoding":{
  "x":{"field":"x","type":"quantitative","axis":null},
  "y":{"field":"y","type":"quantitative","axis":{"orient":"right","title":"90%","titleX":-123,"titleY":29}}}}
]},
{"width":175,"height":147,"resolve":{"axis":{"x":"independent","y":"independent"}},"layer":[
 {"data":{"name":"hist"},"transform":[{"filter":"datum.p == 'b80'"}],"mark":"rect","encoding":{
  "x":{"field":"a","type":"quantitative","scale":{"domain":[-3.5,82],"nice":false,"zero":false},"axis":{"title":null,"tickCount":43,"labelExpr":"abs(datum.value % 20) < 1e-6 ? datum.label : ''"}},
  "x2":{"field":"b"},
  "y":{"field":"v","type":"quantitative","scale":{"domain":[0,0.04],"nice":false},"axis":{"title":null,"tickCount":20,"labelExpr":"abs(datum.value/0.01 - round(datum.value/0.01)) < 0.01 ? format(datum.value, '.2f') : ''"}},
  "y2":{"datum":0}}},
 {"data":{"name":"dens"},"transform":[{"filter":"datum.p == 'b80'"}],"mark":"line","encoding":{
  "x":{"field":"x","type":"quantitative","axis":{"orient":"top","title":"GMYC ‘clusters’","titleX":96,"titleY":-47}},
  "y":{"field":"y","type":"quantitative","axis":{"orient":"right","title":"80%","titleX":-130,"titleY":29}}}}
]},
{"width":175,"height":147,"resolve":{"axis":{"x":"independent","y":"independent"}},"layer":[
 {"data":{"name":"hist"},"transform":[{"filter":"datum.p == 'b70'"}],"mark":"rect","encoding":{
  "x":{"field":"a","type":"quantitative","scale":{"domain":[-2.2,72.7],"nice":false,"zero":false},"axis":{"title":null,"tickCount":37,"labelExpr":"abs(datum.value % 10) < 1e-6 ? datum.label : ''"}},
  "x2":{"field":"b"},
  "y":{"field":"v","type":"quantitative","scale":{"domain":[0,0.07],"nice":false},"axis":{"title":null,"tickCount":35,"labelExpr":"abs(datum.value/0.01 - round(datum.value/0.01)) < 0.01 ? format(datum.value, '.2f') : ''"}},
  "y2":{"datum":0}}},
 {"data":{"name":"dens"},"transform":[{"filter":"datum.p == 'b70'"}],"mark":"line","encoding":{
  "x":{"field":"x","type":"quantitative","axis":null},
  "y":{"field":"y","type":"quantitative","axis":{"orient":"right","title":"70%","titleX":-126,"titleY":29}}}}
]},
{"width":175,"height":147,"resolve":{"axis":{"x":"independent","y":"independent"}},"layer":[
 {"data":{"name":"hist"},"transform":[{"filter":"datum.p == 'b60'"}],"mark":"rect","encoding":{
  "x":{"field":"a","type":"quantitative","scale":{"domain":[-2.5,61.5],"nice":false,"zero":false},"axis":{"title":null,"tickCount":32,"labelExpr":"abs(datum.value % 10) < 1e-6 ? datum.label : ''"}},
  "x2":{"field":"b"},
  "y":{"field":"v","type":"quantitative","scale":{"domain":[0,0.06],"nice":false},"axis":{"title":"Frequency","titleAngle":-90,"titleX":-42,"titleY":36,"titleFontSize":23,"titleFontWeight":"bold","titleAlign":"center","titleBaseline":"middle","tickCount":30,"labelExpr":"abs(datum.value/0.01 - round(datum.value/0.01)) < 0.01 ? format(datum.value, '.2f') : ''"}},
  "y2":{"datum":0}}},
 {"data":{"name":"dens"},"transform":[{"filter":"datum.p == 'b60'"}],"mark":"line","encoding":{
  "x":{"field":"x","type":"quantitative","axis":null},
  "y":{"field":"y","type":"quantitative","axis":{"orient":"right","title":"60%","titleX":-123,"titleY":21}}}}
]},
{"width":175,"height":147,"resolve":{"axis":{"x":"independent","y":"independent"}},"layer":[
 {"data":{"name":"hist"},"transform":[{"filter":"datum.p == 'b50'"}],"mark":"rect","encoding":{
  "x":{"field":"a","type":"quantitative","scale":{"domain":[-2,51.5],"nice":false,"zero":false},"axis":{"title":null,"tickCount":53,"labelExpr":"abs(datum.value % 10) < 1e-6 ? datum.label : ''"}},
  "x2":{"field":"b"},
  "y":{"field":"v","type":"quantitative","scale":{"domain":[0,0.06],"nice":false},"axis":{"title":null,"tickCount":30,"labelExpr":"abs(datum.value/0.01 - round(datum.value/0.01)) < 0.01 ? format(datum.value, '.2f') : ''"}},
  "y2":{"datum":0}}},
 {"data":{"name":"dens"},"transform":[{"filter":"datum.p == 'b50'"}],"mark":"line","encoding":{
  "x":{"field":"x","type":"quantitative","axis":null},
  "y":{"field":"y","type":"quantitative","axis":{"orient":"right","title":"50%","titleX":-103,"titleY":21}}}}
]},
{"width":175,"height":147,"resolve":{"axis":{"x":"independent","y":"independent"}},"layer":[
 {"data":{"name":"hist"},"transform":[{"filter":"datum.p == 'b40'"}],"mark":"rect","encoding":{
  "x":{"field":"a","type":"quantitative","scale":{"domain":[-1.6,41.3],"nice":false,"zero":false},"axis":{"title":null,"tickCount":21,"labelExpr":"abs(datum.value % 10) < 1e-6 ? datum.label : ''"}},
  "x2":{"field":"b"},
  "y":{"field":"v","type":"quantitative","scale":{"domain":[0,0.15],"nice":false},"axis":{"title":null,"tickCount":15,"labelExpr":"abs(datum.value/0.05 - round(datum.value/0.05)) < 0.01 ? format(datum.value, '.2f') : ''"}},
  "y2":{"datum":0}}},
 {"data":{"name":"dens"},"transform":[{"filter":"datum.p == 'b40'"}],"mark":"line","encoding":{
  "x":{"field":"x","type":"quantitative","axis":null},
  "y":{"field":"y","type":"quantitative","axis":{"orient":"right","title":"40%","titleX":-69,"titleY":21}}}}
]},
{"width":175,"height":147,"resolve":{"axis":{"x":"independent","y":"independent"}},"layer":[
 {"data":{"name":"hist"},"transform":[{"filter":"datum.p == 'b30'"}],"mark":"rect","encoding":{
  "x":{"field":"a","type":"quantitative","scale":{"domain":[-1.2,30.8],"nice":false,"zero":false},"axis":{"title":null,"tickCount":32,"labelExpr":"abs(datum.value % 5) < 1e-6 ? datum.label : ''"}},
  "x2":{"field":"b"},
  "y":{"field":"v","type":"quantitative","scale":{"domain":[0,0.2],"nice":false},"axis":{"title":null,"tickCount":20,"labelExpr":"abs(datum.value/0.05 - round(datum.value/0.05)) < 0.01 ? format(datum.value, '.2f') : ''"}},
  "y2":{"datum":0}}},
 {"data":{"name":"dens"},"transform":[{"filter":"datum.p == 'b30'"}],"mark":"line","encoding":{
  "x":{"field":"x","type":"quantitative","axis":null},
  "y":{"field":"y","type":"quantitative","axis":{"orient":"right","title":"30%","titleX":-69,"titleY":29}}}}
]},
{"width":175,"height":147,"resolve":{"axis":{"x":"independent","y":"independent"}},"layer":[
 {"data":{"name":"hist"},"transform":[{"filter":"datum.p == 'b20'"}],"mark":"rect","encoding":{
  "x":{"field":"a","type":"quantitative","scale":{"domain":[-0.8,20.7],"nice":false,"zero":false},"axis":{"title":"Distribution of delimited species","titleX":116,"titleY":38,"titleFontSize":24,"titleFontWeight":"bold","titleAlign":"center","titleBaseline":"middle","tickCount":21,"labelExpr":"abs(datum.value % 5) < 1e-6 ? datum.label : ''"}},
  "x2":{"field":"b"},
  "y":{"field":"v","type":"quantitative","scale":{"domain":[0,0.2],"nice":false},"axis":{"title":null,"tickCount":20,"labelExpr":"abs(datum.value/0.05 - round(datum.value/0.05)) < 0.01 ? format(datum.value, '.2f') : ''"}},
  "y2":{"datum":0}}},
 {"data":{"name":"dens"},"transform":[{"filter":"datum.p == 'b20'"}],"mark":"line","encoding":{
  "x":{"field":"x","type":"quantitative","axis":null},
  "y":{"field":"y","type":"quantitative","axis":{"orient":"right","title":"20%","titleX":-49,"titleY":29}}}}
]},
{"width":175,"height":147,"resolve":{"axis":{"x":"independent","y":"independent"}},"layer":[
 {"data":{"name":"hist"},"transform":[{"filter":"datum.p == 'b10'"}],"mark":"rect","encoding":{
  "x":{"field":"a","type":"quantitative","scale":{"domain":[-0.6,15.3],"nice":false,"zero":false},"axis":{"title":null,"tickCount":16,"labelExpr":"abs(datum.value % 5) < 1e-6 ? datum.label : ''"}},
  "x2":{"field":"b"},
  "y":{"field":"v","type":"quantitative","scale":{"domain":[0,0.15],"nice":false},"axis":{"title":null,"tickCount":15,"labelExpr":"abs(datum.value/0.05 - round(datum.value/0.05)) < 0.01 ? format(datum.value, '.2f') : ''"}},
  "y2":{"datum":0}}},
 {"data":{"name":"dens"},"transform":[{"filter":"datum.p == 'b10'"}],"mark":"line","encoding":{
  "x":{"field":"x","type":"quantitative","axis":null},
  "y":{"field":"y","type":"quantitative","axis":{"orient":"right","title":"10%","titleX":-51,"titleY":29}}}}
]}
]}
]
}
